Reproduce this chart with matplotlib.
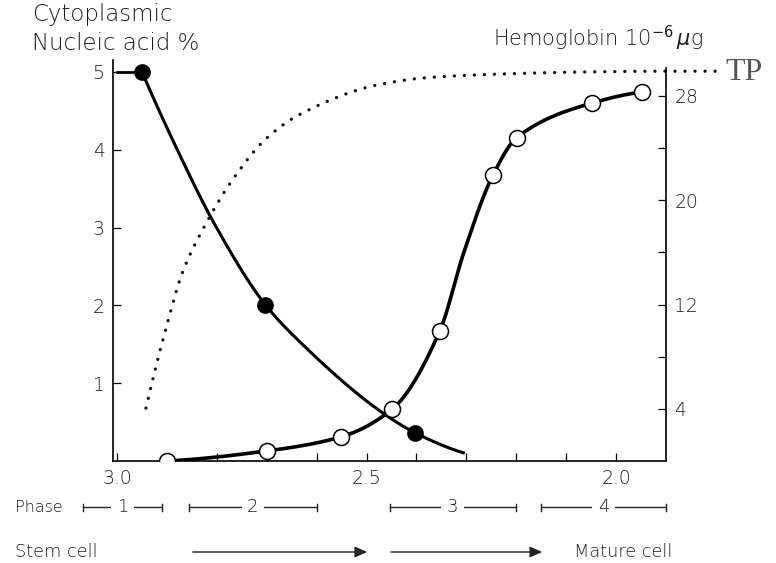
import numpy as np
import matplotlib
matplotlib.use("Agg")
import matplotlib.pyplot as plt
from matplotlib.patches import FancyArrowPatch
from matplotlib.transforms import blended_transform_factory

# ---------------- data ----------------
na_x = [2.95, 2.871, 2.805, 2.703, 2.635, 2.468, 2.402, 2.303]   # cytoplasmic nucleic acid curve
na_y = [5.00, 3.89, 3.05, 2.01, 1.54, 0.62, 0.36, 0.10]
na_mark_x = [2.95, 2.703, 2.402]
na_mark_y = [5.00, 2.01, 0.36]
na_start = [3.00, 5.00]                                           # short lead-in at 5

hb_x = [2.90, 2.70, 2.552, 2.448, 2.353, 2.305, 2.247, 2.199, 2.048, 1.948]
hb_y = [0.0, 0.77, 1.84, 4.0, 10.0, 16.0, 21.9, 24.8, 27.45, 28.3]
hb_mark_x = [2.90, 2.70, 2.552, 2.448, 2.353, 2.247, 2.199, 2.048, 1.948]
hb_mark_y = [0.0, 0.77, 1.84, 4.0, 10.0, 21.9, 24.8, 27.45, 28.3]

tp_x = [2.942, 2.90, 2.869, 2.821, 2.769, 2.70, 2.635, 2.474, 2.373, 2.173, 2.07, 1.90, 1.80]
tp_y = [0.68, 1.75, 2.42, 3.06, 3.61, 4.15, 4.45, 4.84, 4.93, 4.985, 5.0, 5.01, 5.01]

x_major = [3.0, 2.5, 2.0]
x_major_labels = ["3.0", "2.5", "2.0"]
x_minor = [2.9, 2.8, 2.7, 2.6, 2.4, 2.3, 2.2, 2.1]
left_ticks = [1, 2, 3, 4, 5]
right_major = [4, 12, 20, 28]
right_minor = [8, 16, 24]

phase_labels = ["1", "2", "3", "4"]
phase_ranges = [(3.068, 2.910), (2.855, 2.600), (2.454, 2.201), (2.151, 1.900)]

# ---------------- figure ----------------
W, H = 776, 563
fig = plt.figure(figsize=(W / 100, H / 100), dpi=100)
FONT = "DejaVu Sans"
WT = "light"
TXT = "#1c1c1c"


def fx(x):
    return x / W


def fy(y):
    return 1 - y / H


ax = fig.add_axes([fx(113), fy(461), fx(666) - fx(113), fy(60) - fy(461)])
ax2 = ax.twinx()
ax2.set_position(ax.get_position())

ax.set_xlim(3.008, 1.90)
ax.set_ylim(0, 5.154)
ax2.set_ylim(0, 30.75)

for a in (ax, ax2):
    a.spines["top"].set_visible(False)
    for s in a.spines.values():
        s.set_linewidth(1.2)
ax2.spines["left"].set_visible(False)
ax2.spines["bottom"].set_visible(False)
ax.spines["right"].set_visible(False)
ax2.spines["right"].set_bounds(0, 30.1)

ax.set_xticks(x_major)
ax.set_xticklabels(x_major_labels)
ax.set_xticks(x_minor, minor=True)
ax.tick_params(axis="x", which="both", direction="in", length=6, width=0.9,
               pad=6, labelsize=13.5, labelcolor=TXT)
ax.set_yticks(left_ticks)
ax.set_yticklabels([str(v) for v in left_ticks])
ax.tick_params(axis="y", which="both", direction="in", length=6, width=0.9,
               pad=6, labelsize=13.5, labelcolor=TXT)
ax2.set_yticks(right_major)
ax2.set_yticklabels([str(v) for v in right_major])
ax2.set_yticks(right_minor, minor=True)
ax2.tick_params(axis="y", which="both", direction="in", length=6, width=0.9,
                pad=6, labelsize=13.5, labelcolor=TXT)
for lab in ax.get_xticklabels() + ax.get_yticklabels() + ax2.get_yticklabels():
    lab.set_fontfamily(FONT)
    lab.set_fontweight(WT)


def smooth(axis, xs, ys, n=40):
    """Monotone cubic (PCHIP) curve through the points, in display space."""
    P = axis.transData.transform(np.column_stack([xs, ys]))
    order = np.argsort(P[:, 0])
    x, y = P[order, 0], P[order, 1]
    h = np.diff(x)
    d = np.diff(y) / h
    m = np.zeros_like(y)
    for k in range(1, len(x) - 1):
        if d[k - 1] * d[k] > 0:
            w1 = 2 * h[k] + h[k - 1]
            w2 = h[k] + 2 * h[k - 1]
            m[k] = (w1 + w2) / (w1 / d[k - 1] + w2 / d[k])

    def endslope(h0, h1, d0, d1):
        s = ((2 * h0 + h1) * d0 - h0 * d1) / (h0 + h1)
        if np.sign(s) != np.sign(d0):
            s = 0.0
        elif np.sign(d0) != np.sign(d1) and abs(s) > abs(3 * d0):
            s = 3 * d0
        return s

    m[0] = endslope(h[0], h[1], d[0], d[1])
    m[-1] = endslope(h[-1], h[-2], d[-1], d[-2])
    X, Y = [], []
    for k in range(len(x) - 1):
        t = np.linspace(0, 1, n)
        h00 = 2 * t**3 - 3 * t**2 + 1
        h10 = t**3 - 2 * t**2 + t
        h01 = -2 * t**3 + 3 * t**2
        h11 = t**3 - t**2
        yy = h00 * y[k] + h10 * h[k] * m[k] + h01 * y[k + 1] + h11 * h[k] * m[k + 1]
        xx = x[k] + t * h[k]
        if k > 0:
            xx, yy = xx[1:], yy[1:]
        X.append(xx)
        Y.append(yy)
    D = axis.transData.inverted().transform(np.column_stack([np.concatenate(X), np.concatenate(Y)]))
    return D[:, 0], D[:, 1]


# TP dotted curve
sx, sy = smooth(ax, tp_x, tp_y)
ax.plot(sx, sy, color="#111111", lw=2.4, linestyle=(0, (0.01, 3.0)),
        dash_capstyle="round", clip_on=False, zorder=2)

# nucleic acid curve
ax.plot([na_start[0], na_x[0]], [na_start[1], na_y[0]], color="black", lw=2.0, zorder=3)
sx, sy = smooth(ax, na_x, na_y)
ax.plot(sx, sy, color="black", lw=2.2, solid_capstyle="butt", zorder=3)
ax.plot(na_mark_x, na_mark_y, "o", ms=11, color="black", mec="black", zorder=5)

# hemoglobin curve
sx, sy = smooth(ax2, hb_x, hb_y)
ax2.plot(sx, sy, color="black", lw=2.6, zorder=3)
ax2.plot(hb_mark_x, hb_mark_y, "o", ms=11.5, mfc="white", mec="black", mew=1.1, zorder=5)

# texts
fig.text(fx(32), fy(15), "Cytoplasmic", fontsize=16.5, family=FONT, weight=WT,
         color=TXT, va="center", ha="left")
fig.text(fx(32), fy(43), "Nucleic acid %", fontsize=16.5, family=FONT, weight=WT,
         color=TXT, va="center", ha="left")
fig.text(fx(493), fy(46), r"Hemoglobin 10$^{-6}$$\,\mu$g", fontsize=15, family=FONT,
         weight=WT, color=TXT, va="baseline", ha="left")
fig.text(fx(725), fy(72), "TP", fontsize=23, family="Liberation Serif", color="#555555",
         va="center", ha="left")

# phase row
tb = blended_transform_factory(ax.transData, fig.transFigure)
yp = fy(507)
cap = 3.5 / H
fig.text(fx(15), yp, "Phase", fontsize=11.5, family=FONT, weight=WT, color=TXT,
         va="center", ha="left")
for lab, (a, b) in zip(phase_labels, phase_ranges):
    ax.plot([a, b], [yp, yp], color="#222222", lw=1.0, transform=tb, clip_on=False)
    for e in (a, b):
        ax.plot([e, e], [yp - cap, yp + cap], color="#222222", lw=1.0, transform=tb, clip_on=False)
    ax.text((a + b) / 2, yp, lab, transform=tb, fontsize=13, family=FONT, weight=WT,
            color=TXT, ha="center", va="center",
            bbox=dict(fc="white", ec="none", pad=4))

# stem cell -> mature cell arrows
ya = fy(552)
fig.text(fx(15), ya, "Stem cell", fontsize=12.8, family=FONT, weight=WT, color=TXT,
         va="center", ha="left")
fig.text(fx(672), ya, "Mature cell", fontsize=12.8, family=FONT, weight=WT, color=TXT,
         va="center", ha="right")
for x0, x1 in [(190, 370), (388, 545)]:
    fig.add_artist(FancyArrowPatch(
        (fx(x0), ya), (fx(x1), ya), transform=fig.transFigure,
        arrowstyle="-|>,head_length=5,head_width=2.2", mutation_scale=1.5,
        color="#222222", lw=1.0))

fig.savefig("out.png", dpi=100)
